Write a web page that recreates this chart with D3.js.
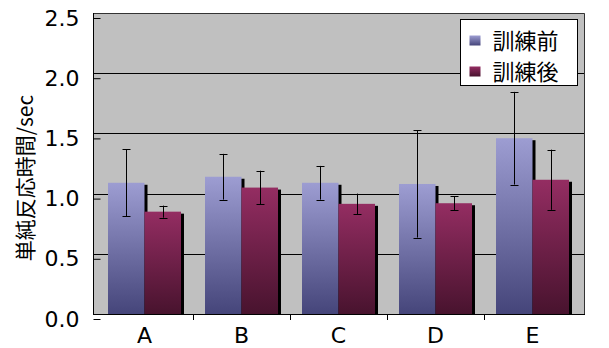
<!DOCTYPE html>
<html><head><meta charset="utf-8">
<script src="https://cdn.jsdelivr.net/npm/d3@7"></script>
<style>html,body{margin:0;padding:0;background:#fff;}svg{display:block;}</style>
</head><body>
<script>
const categories = ["A","B","C","D","E"];
const seriesNames = ["訓練前","訓練後"];
const beforeValues = [1.09, 1.14, 1.09, 1.08, 1.46];
const beforeErrors = [0.28, 0.19, 0.14, 0.445, 0.385];
const afterValues = [0.85, 1.05, 0.915, 0.92, 1.115];
const afterErrors = [0.05, 0.14, 0.085, 0.06, 0.25];
const yTicks = [0, 0.5, 1.0, 1.5, 2.0, 2.5];
const yTitle = "単純反応時間/sec";

const W = 609, H = 348;
const m = {left: 93, right: 24, top: 13, bottom: 34};
const svg = d3.select("body").append("svg").attr("width", W).attr("height", H);
const defs = svg.append("defs");
function grad(id, top, bottom) {
  const g = defs.append("linearGradient").attr("id", id).attr("x1", 0).attr("y1", 0).attr("x2", 0).attr("y2", 1);
  g.append("stop").attr("offset", "0%").attr("stop-color", top);
  g.append("stop").attr("offset", "100%").attr("stop-color", bottom);
}
grad("gBefore", "#9d9dd2", "#45457a");
grad("gAfter", "#942d62", "#48132e");
const fills = ["url(#gBefore)", "url(#gAfter)"];

const x0 = m.left, x1 = W - m.right, yT = m.top, yB = H - m.bottom;
const x = d3.scaleBand().domain(categories).range([96, 581]).paddingInner(0).paddingOuter(0);
const y = d3.scaleLinear().domain([0, 2.5]).range([yB, yT]);
const groupW = 73;
const xs = d3.scaleBand().domain(seriesNames).range([0, groupW]);

// plot background
svg.append("rect").attr("x", x0).attr("y", yT).attr("width", x1 - x0).attr("height", yB - yT).attr("fill", "#c0c0c0");
// gridlines
svg.append("g").selectAll("line").data(yTicks.filter(t => t > 0 && t < 2.5)).join("line")
  .attr("x1", x0).attr("x2", x1).attr("y1", d => Math.round(y(d)) + 0.5).attr("y2", d => Math.round(y(d)) + 0.5)
  .attr("stroke", "#000").attr("stroke-width", 1);
// border top/right
svg.append("path").attr("d", `M${x0},${yT + 0.5}H${x1 - 0.5}V${yB}`).attr("fill", "none").attr("stroke", "#333").attr("stroke-width", 1);

const data = categories.map((c, i) => ({c, vals: [
  {s: seriesNames[0], v: beforeValues[i], e: beforeErrors[i]},
  {s: seriesNames[1], v: afterValues[i], e: afterErrors[i]}
]}));

const gCat = svg.append("g").selectAll("g").data(data).join("g")
  .attr("transform", d => `translate(${x(d.c) + (x.bandwidth() - groupW) / 2},0)`);
gCat.each(function(d) {
  const g = d3.select(this);
  d.vals.forEach((p, j) => {
    const bx = xs(p.s), bw = xs.bandwidth();
    g.append("rect").attr("x", bx + 3).attr("y", y(p.v) + 2).attr("width", bw)
      .attr("height", yB - y(p.v) - 2).attr("fill", "#000");
    g.append("rect").attr("x", bx).attr("y", y(p.v)).attr("width", bw)
      .attr("height", yB - y(p.v)).attr("fill", fills[j]);
  });
  d.vals.forEach(p => {
    const cx = Math.round(xs(p.s) + xs.bandwidth() / 2) + 0.5;
    const t = y(p.v + p.e), b = y(p.v - p.e);
    g.append("line").attr("x1", cx).attr("x2", cx).attr("y1", t).attr("y2", b).attr("stroke", "#000");
    [t, b].forEach(yy => g.append("line").attr("x1", cx - 4).attr("x2", cx + 4)
      .attr("y1", Math.round(yy) + 0.5).attr("y2", Math.round(yy) + 0.5).attr("stroke", "#000"));
  });
});

// axes
const shift = 5;
const latin = "DejaVu Sans, Verdana, sans-serif";
const yAxis = d3.axisLeft(y).tickValues(yTicks).tickFormat(d3.format(".1f")).tickSize(-7).tickPadding(14);
const ga = svg.append("g").attr("transform", `translate(${x0 + 0.5},${shift})`).call(yAxis);
ga.select(".domain").remove();
ga.selectAll("text").style("font-family", latin).style("font-size", "22px").attr("fill", "#000");
ga.selectAll("line").attr("stroke", "#000");
svg.append("line").attr("x1", x0 + 0.5).attr("x2", x0 + 0.5).attr("y1", yT).attr("y2", yB + 1).attr("stroke", "#000");

const xAxis = d3.axisBottom(x).tickSize(0).tickPadding(13);
const gx = svg.append("g").attr("transform", `translate(0,${yB})`).call(xAxis);
gx.select(".domain").remove();
gx.selectAll("text").style("font-family", latin).style("font-size", "22px").attr("fill", "#000");
svg.append("line").attr("x1", x0).attr("x2", x1).attr("y1", yB + 0.5).attr("y2", yB + 0.5).attr("stroke", "#000");
svg.append("g").selectAll("line").data(categories.slice(1)).join("line")
  .attr("x1", d => Math.round(x(d)) + 0.5).attr("x2", d => Math.round(x(d)) + 0.5)
  .attr("y1", yB).attr("y2", yB + 6).attr("stroke", "#000");

// y title
svg.append("text").attr("transform", `translate(33,178) rotate(-90)`)
  .attr("text-anchor", "middle").style("font-family", "Noto Sans CJK JP, sans-serif").style("font-size", "21px")
  .attr("fill", "#000").text(yTitle);

// legend
const lg = svg.append("g").attr("transform", "translate(460.5,19.5)");
lg.append("rect").attr("width", 117).attr("height", 66).attr("fill", "#fff").attr("stroke", "#000");
seriesNames.forEach((s, i) => {
  lg.append("rect").attr("x", 9).attr("y", 16 + i * 31).attr("width", 11).attr("height", 10).attr("fill", fills[i]);
  lg.append("text").attr("x", 32).attr("y", 29 + i * 31).style("font-family", "Noto Sans CJK JP, sans-serif")
    .style("font-size", "22px").attr("fill", "#000").text(s);
});
</script>
</body></html>
